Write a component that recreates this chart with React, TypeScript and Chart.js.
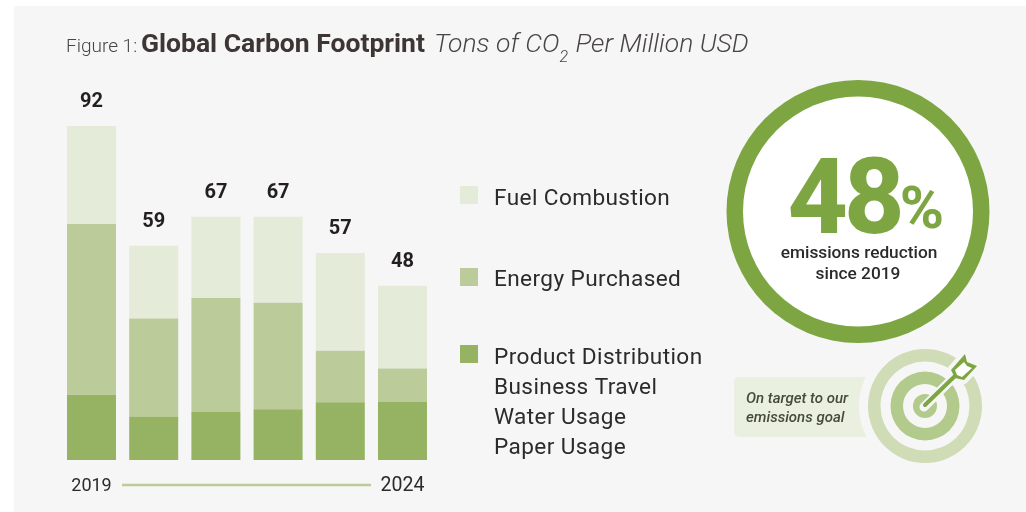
import { useEffect, useRef } from "react";
import { Chart, registerables } from "chart.js";

Chart.register(...registerables);

const years = ["2019", "2020", "2021", "2022", "2023", "2024"];
const totals = [92, 59, 67, 67, 57, 48];
const fuelCombustion = [27, 20, 22.4, 23.7, 26.9, 22.8];
const energyPurchased = [47, 27, 31.4, 29.3, 14.2, 9.2];
const productDistribution = [18, 12, 13.2, 14, 15.9, 16];
const legendGroups = [
  { lines: ["Fuel Combustion"], swatchY: 186, textY: 199 },
  { lines: ["Energy Purchased"], swatchY: 268, textY: 280 },
  { lines: ["Product Distribution", "Business Travel", "Water Usage", "Paper Usage"], swatchY: 345, textY: 358 },
];
const FUEL = "#e4ebd9";
const ENERGY = "#bccb9a";
const PRODUCT = "#95b363";
const RING = "#7da642";
const INK = "#2b2b2d";
const PANEL = "#f6f6f6";

const text = (
  ctx: CanvasRenderingContext2D,
  s: string,
  x: number,
  y: number,
  font: string,
  color: string,
  align: CanvasTextAlign = "left",
) => {
  ctx.font = font;
  ctx.fillStyle = color;
  ctx.textAlign = align;
  ctx.textBaseline = "middle";
  ctx.fillText(s, x, y);
  return ctx.measureText(s).width;
};

const disc = (ctx: CanvasRenderingContext2D, x: number, y: number, r: number, color: string) => {
  ctx.beginPath();
  ctx.arc(x, y, r, 0, Math.PI * 2);
  ctx.fillStyle = color;
  ctx.fill();
};

const poly = (ctx: CanvasRenderingContext2D, pts: number[][]) => {
  ctx.beginPath();
  pts.forEach(([px, py], i) => (i ? ctx.lineTo(px, py) : ctx.moveTo(px, py)));
  ctx.closePath();
};

// Page background panel behind the plot.
const panelPlugin = {
  id: "panel",
  beforeDraw(chart: Chart) {
    const { ctx } = chart;
    ctx.save();
    ctx.fillStyle = "#ffffff";
    ctx.fillRect(0, 0, 1026, 512);
    ctx.fillStyle = PANEL;
    ctx.fillRect(14, 6, 1012, 506);
    ctx.restore();
  },
};

// Title, totals, legend, year rule and the two side badges.
const annotationPlugin = {
  id: "annotations",
  afterDraw(chart: Chart) {
    const { ctx } = chart;
    const x = chart.scales.x;
    const y = chart.scales.y;
    ctx.save();

    text(ctx, "Figure 1:", 66, 47, "300 19px Roboto", "#4a4545");
    text(ctx, "Global Carbon Footprint", 141, 45, "700 26.5px Roboto", "#3d3635");
    let cx = 434;
    cx += text(ctx, "Tons of CO", cx, 45, "italic 300 26.5px Roboto", "#4a4545");
    cx += text(ctx, "2", cx, 58, "italic 300 16px Roboto", "#4a4545") + 1;
    text(ctx, " Per Million USD", cx, 45, "italic 300 26.5px Roboto", "#4a4545");

    totals.forEach((total, i) => {
      text(ctx, String(total), x.getPixelForValue(i), y.getPixelForValue(total) - 24, "700 20px Roboto", "#231f20", "center");
    });

    text(ctx, years[0], x.getPixelForValue(0), 486, "400 18px Roboto", INK, "center");
    text(ctx, years[5], x.getPixelForValue(5), 486, "400 19.5px Roboto", INK, "center");
    ctx.strokeStyle = ENERGY;
    ctx.lineWidth = 2.4;
    ctx.beginPath();
    ctx.moveTo(122, 485);
    ctx.lineTo(371, 485);
    ctx.stroke();

    const swatches = [FUEL, ENERGY, PRODUCT];
    legendGroups.forEach((group, g) => {
      ctx.fillStyle = swatches[g];
      ctx.fillRect(460, group.swatchY, 18, 18);
      group.lines.forEach((line, l) => {
        ctx.letterSpacing = "0.4px";
        text(ctx, line, 494, group.textY + l * 30, "400 22.6px Roboto", INK);
        ctx.letterSpacing = "0px";
      });
    });

    // Reduction badge
    disc(ctx, 858, 211.5, 131.5, RING);
    disc(ctx, 858, 211.5, 115, "#ffffff");
    ctx.letterSpacing = "-4px";
    text(ctx, "48", 844, 207, "800 105px Roboto", RING, "center");
    ctx.letterSpacing = "0px";
    text(ctx, "%", 922, 213, "700 60px Roboto", RING, "center");
    text(ctx, "emissions reduction", 859, 254, "500 17.3px Roboto", INK, "center");
    text(ctx, "since 2019", 858, 275, "500 17.3px Roboto", INK, "center");

    // Goal callout
    ctx.beginPath();
    ctx.roundRect(734, 377, 140, 60, 5);
    ctx.fillStyle = "#eaf0e0";
    ctx.fill();
    disc(ctx, 925, 406, 66, PANEL);
    text(ctx, "On target to our", 746, 399, "italic 500 15px Roboto", "#454a3c");
    text(ctx, "emissions goal", 746, 418, "italic 500 15px Roboto", "#454a3c");

    // Target rings
    disc(ctx, 925, 406, 57, "#cfdcb6");
    disc(ctx, 925, 406, 44.5, PANEL);
    disc(ctx, 925, 406, 34.5, "#b2ca8c");
    disc(ctx, 925, 406, 22, PANEL);
    disc(ctx, 925, 406, 12, "#b2ca8c");

    // Arrow stuck in the target centre, with a cut-out halo
    const head = [[951, 370], [965, 354], [967, 362], [977, 366], [964, 380], [955, 378]];
    const feather = [[955, 370], [964, 362], [967, 366], [972, 368], [962, 377], [957, 375]];
    ctx.lineCap = "round";
    ctx.lineJoin = "round";
    ctx.strokeStyle = PANEL;
    ctx.lineWidth = 9;
    ctx.beginPath();
    ctx.moveTo(924, 407);
    ctx.lineTo(955, 376);
    ctx.stroke();
    poly(ctx, head);
    ctx.lineWidth = 8;
    ctx.stroke();
    ctx.fillStyle = PANEL;
    ctx.fill();
    ctx.strokeStyle = RING;
    ctx.lineWidth = 4;
    ctx.beginPath();
    ctx.moveTo(925, 405);
    ctx.lineTo(955, 376);
    ctx.stroke();
    poly(ctx, head);
    ctx.fillStyle = RING;
    ctx.fill();
    poly(ctx, feather);
    ctx.fillStyle = "#ffffff";
    ctx.fill();
    ctx.restore();
  },
};

export default function App() {
  const ref = useRef<HTMLCanvasElement>(null);
  useEffect(() => {
    document.body.style.margin = "0";
    const chart = new Chart(ref.current!, {
      type: "bar",
      data: {
        labels: years,
        datasets: [
          { label: "Product Distribution", data: productDistribution, backgroundColor: PRODUCT },
          { label: "Energy Purchased", data: energyPurchased, backgroundColor: ENERGY },
          { label: "Fuel Combustion", data: fuelCombustion, backgroundColor: FUEL },
        ],
      },
      options: {
        responsive: false,
        animation: false,
        layout: { padding: { left: 60.4, right: 592.4, top: 97, bottom: 52 } },
        datasets: { bar: { categoryPercentage: 1, barPercentage: 49 / 62.2 } },
        plugins: { legend: { display: false }, tooltip: { enabled: false } },
        scales: {
          x: { stacked: true, display: false },
          y: { stacked: true, display: false, min: 0, max: 100 },
        },
      },
      plugins: [panelPlugin, annotationPlugin],
    });
    return () => chart.destroy();
  }, []);
  return <canvas ref={ref} width={1026} height={512} style={{ display: "block" }} />;
}
